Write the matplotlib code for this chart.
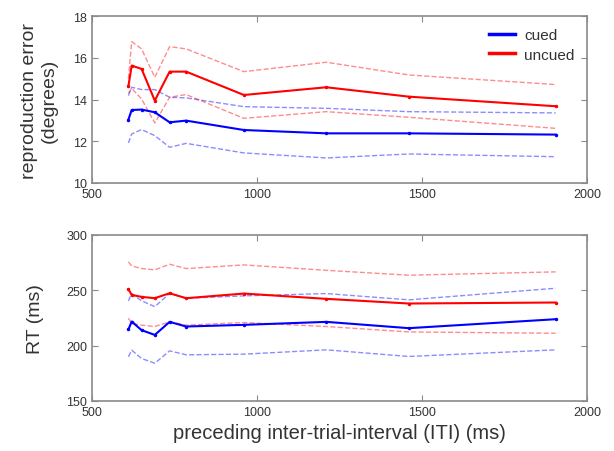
import matplotlib
matplotlib.use('Agg')
import matplotlib.pyplot as plt
from matplotlib.lines import Line2D

plt.rcParams['font.family'] = ['Liberation Sans', 'DejaVu Sans']

# preceding ITI (ms)
iti = [610, 620, 650, 690, 735, 785, 960, 1210, 1460, 1905]

# reproduction error (degrees)
err_cued = [13.04, 13.5, 13.52, 13.39, 12.91, 12.99, 12.54, 12.38, 12.38, 12.32]
err_cued_hi = [14.19, 14.59, 14.48, 14.48, 14.11, 14.08, 13.66, 13.58, 13.42, 13.36]
err_cued_lo = [11.92, 12.35, 12.56, 12.27, 11.71, 11.9, 11.44, 11.2, 11.39, 11.26]
err_uncued = [14.64, 15.63, 15.47, 13.95, 15.34, 15.34, 14.22, 14.59, 14.14, 13.68]
err_uncued_hi = [15.0, 16.78, 16.43, 15.07, 16.54, 16.43, 15.34, 15.79, 15.18, 14.72]
err_uncued_lo = [14.3, 14.54, 14.03, 12.88, 14.11, 14.24, 13.1, 13.42, 13.15, 12.62]

# RT (ms)
rt_cued = [214.5, 221.7, 213.9, 209.6, 221.4, 217.2, 218.7, 221.4, 215.7, 223.8]
rt_cued_hi = [240.4, 247.0, 240.4, 235.2, 247.0, 242.8, 244.9, 247.0, 241.3, 251.8]
rt_cued_lo = [189.8, 195.8, 188.3, 184.0, 195.2, 191.6, 192.2, 196.1, 190.1, 196.1]
rt_uncued = [250.9, 245.8, 244.0, 242.8, 247.3, 242.8, 247.0, 242.2, 238.0, 238.9]
rt_uncued_hi = [275.6, 272.0, 269.6, 268.4, 273.5, 269.6, 272.9, 268.0, 263.6, 266.6]
rt_uncued_lo = [224.7, 220.2, 218.4, 217.2, 221.4, 218.4, 220.8, 217.2, 212.3, 211.1]

blue = '#0000ff'
red = '#ff0000'
frame = '#8a8a8a'
txt = '#333333'

fig = plt.figure(figsize=(6.14, 4.52), dpi=100)
ax1 = fig.add_axes([0.150, 0.593, 0.806, 0.369])
ax2 = fig.add_axes([0.150, 0.111, 0.806, 0.367])


def draw(ax, c, chi, clo, u, uhi, ulo):
    ax.plot(iti, chi, '--', color=blue, lw=1, alpha=0.45)
    ax.plot(iti, clo, '--', color=blue, lw=1, alpha=0.45)
    ax.plot(iti, uhi, '--', color=red, lw=1, alpha=0.45)
    ax.plot(iti, ulo, '--', color=red, lw=1, alpha=0.45)
    ax.plot(iti, c, '-', color=blue, lw=1.5, marker='.', ms=3)
    ax.plot(iti, u, '-', color=red, lw=1.5, marker='.', ms=3)
    ax.set_xlim(500, 2000)
    ax.set_xticks([500, 1000, 1500, 2000])
    ax.tick_params(direction='in', top=True, right=True, length=4,
                   color=frame, labelcolor=txt, labelsize=9)
    for s in ax.spines.values():
        s.set_color(frame)
        s.set_linewidth(1.2)


draw(ax1, err_cued, err_cued_hi, err_cued_lo, err_uncued, err_uncued_hi, err_uncued_lo)
ax1.set_ylim(10, 18)
ax1.set_yticks([10, 12, 14, 16, 18])
ax1.set_ylabel('reproduction error\n(degrees)', fontsize=14, color=txt,
               labelpad=11, linespacing=1.25)
handles = [Line2D([], [], color=blue, lw=2.5), Line2D([], [], color=red, lw=2.5)]
leg = ax1.legend(handles, ['cued', 'uncued'], loc='upper right', frameon=False,
                 fontsize=11, handlelength=1.7, handletextpad=0.6,
                 borderaxespad=0.2, borderpad=0.6, labelspacing=0.35)
for t in leg.get_texts():
    t.set_color(txt)

draw(ax2, rt_cued, rt_cued_hi, rt_cued_lo, rt_uncued, rt_uncued_hi, rt_uncued_lo)
ax2.set_ylim(150, 300)
ax2.set_yticks([150, 200, 250, 300])
ax2.set_ylabel('RT (ms)', fontsize=14, color=txt, labelpad=16)
ax2.set_xlabel('preceding inter-trial-interval (ITI) (ms)', fontsize=14.5, color=txt)

fig.savefig('out.png', dpi=100)
